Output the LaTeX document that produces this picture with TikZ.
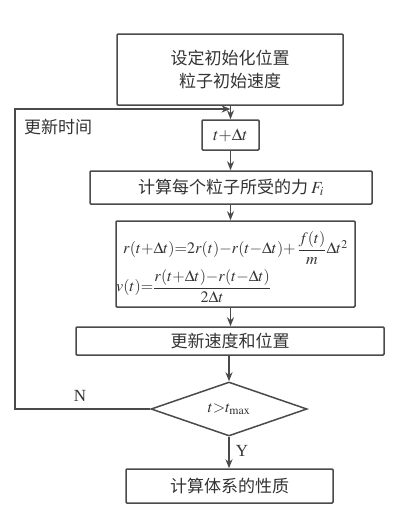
\documentclass[tikz,border=0pt]{standalone}
\usepackage{amsmath}
\usepackage{mathptmx}
\usepackage{fontspec}
\setmainfont{Liberation Serif}
\newfontfamily\cjk{Noto Sans CJK SC}
\usetikzlibrary{arrows.meta,shapes.geometric}
\definecolor{ln}{HTML}{4A4A4A}
\definecolor{tx}{HTML}{333333}
\tikzset{
  box/.style={draw=ln,line width=1.5pt,rounded corners=1pt,inner sep=0pt,text=tx,font=\cjk\fontsize{17}{23}\selectfont,align=center},
  dia/.style={draw=ln,line width=1.5pt,diamond,inner sep=0pt,text=tx},
  arr/.style={draw=ln,line width=1.5pt,-{Stealth[length=9pt,width=7pt]}},
  lbl/.style={text=tx,inner sep=0pt},
  eq/.style={lbl,font=\fontsize{16}{19}\selectfont},
}
\begin{document}
\begin{tikzpicture}[x=1pt,y=-1pt]
\useasboundingbox (0,0) rectangle (400,514);
\node[box,minimum width=226pt,minimum height=71pt] (b1) at (230,69.5) {设定初始化位置\\粒子初始速度};
\node[box,minimum width=57pt,minimum height=30pt,font=\fontsize{17}{20}\selectfont] (bt) at (230.5,135) {$t{+}\Delta t$};
\node[box,minimum width=282pt,minimum height=33pt] (b3) at (231,187.5) {计算每个粒子所受的力\,$F_i$};
\node[box,minimum width=239pt,minimum height=86pt] (b4) at (235.5,264) {};
\node[eq,anchor=west] (e1) at (123,248) {$r(t{+}\Delta t){=}2r(t){-}r(t{-}\Delta t){+}\,\dfrac{f(t)}{m}\Delta t^2$};
\node[eq,anchor=west] (e2) at (116,286) {$v(t){=}\dfrac{r(t{+}\Delta t){-}r(t{-}\Delta t)}{2\Delta t}$};
\node[box,minimum width=308pt,minimum height=28pt] (b5) at (230,341) {更新速度和位置};
\node[dia,minimum width=156pt,minimum height=54pt,aspect=2.9] (d) at (229,409) {};
\node[eq] (dt) at (229,409) {$t{>}t_{\max}$};
\node[box,minimum width=207pt,minimum height=34pt] (b6) at (229.5,486) {计算体系的性质};
\node[lbl,font=\cjk\fontsize{17}{20}\selectfont,anchor=west] (upd) at (24,127) {更新时间};
\node[lbl,font=\fontsize{17}{18}\selectfont] (N) at (80,396) {N};
\node[lbl,font=\fontsize{17}{18}\selectfont] (Y) at (242,451) {Y};
\coordinate (c1) at (15,409);
\coordinate (c2) at (15,109);
\coordinate (jn) at (230.5,109);
\draw[arr] (d.west) -- (c1) -- (c2) -- (jn);
\draw[arr] (b1.south -| bt.north) -- (bt.north);
\draw[arr] (bt.south) -- (b3.north -| bt.south);
\draw[arr] (b3.south -| bt.south) -- (b4.north -| bt.south);
\draw[arr] (b4.south -| bt.south) -- (b5.north -| bt.south);
\draw[arr] (b5.south -| d.north) -- (d.north);
\draw[arr] (d.south) -- (b6.north -| d.south);
\end{tikzpicture}
\end{document}
